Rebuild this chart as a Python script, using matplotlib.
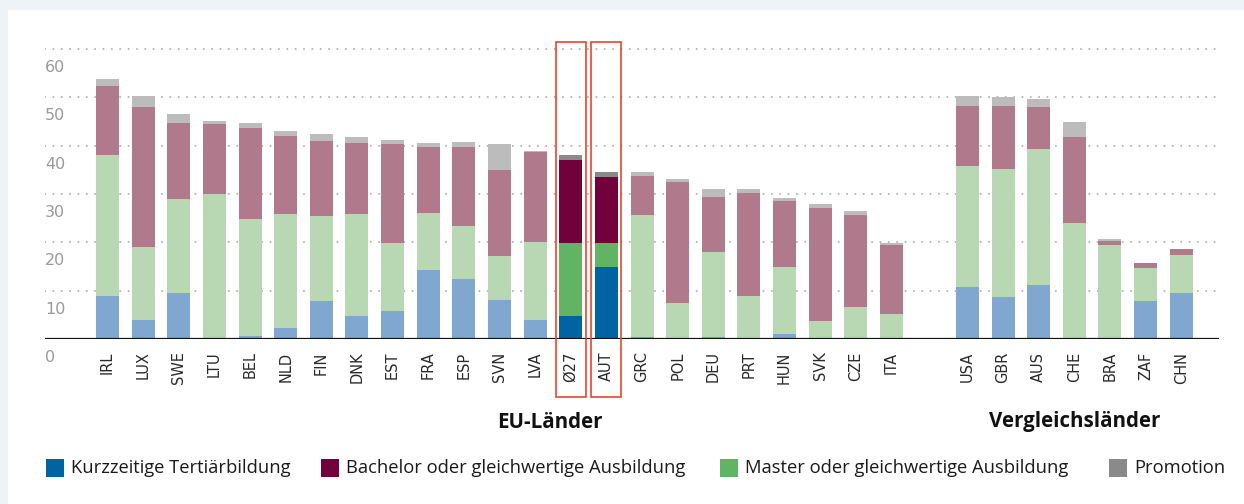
import matplotlib
matplotlib.use("Agg")
import matplotlib.pyplot as plt
from matplotlib.patches import Rectangle
from matplotlib.transforms import blended_transform_factory, offset_copy

# ---------------- data ----------------
eu_countries = ["IRL", "LUX", "SWE", "LTU", "BEL", "NLD", "FIN", "DNK", "EST", "FRA",
                "ESP", "SVN", "LVA", "Ø27", "AUT", "GRC", "POL", "DEU", "PRT", "HUN",
                "SVK", "CZE", "ITA"]
cmp_countries = ["USA", "GBR", "AUS", "CHE", "BRA", "ZAF", "CHN"]

eu_short = [9.0, 3.9, 9.5, 0.0, 0.6, 2.3, 7.9, 4.8, 5.8, 14.3, 12.4, 8.1, 3.9, 4.8, 14.9,
            0.4, 0.0, 0.4, 0.0, 1.0, 0.0, 0.0, 0.0]
eu_master = [29.0, 15.1, 19.4, 30.0, 24.2, 23.5, 17.5, 21.0, 14.0, 11.7, 10.9, 9.0, 16.1,
             15.0, 4.9, 25.2, 7.4, 17.6, 8.9, 13.9, 3.7, 6.6, 5.2]
eu_bachelor = [14.3, 28.9, 15.7, 14.4, 18.8, 16.1, 15.5, 14.7, 20.5, 13.7, 16.4, 17.8, 18.6,
               17.2, 13.7, 8.1, 25.0, 11.3, 21.3, 13.6, 23.4, 19.0, 14.2]
eu_promo = [1.4, 2.3, 1.9, 0.8, 1.0, 1.1, 1.5, 1.2, 0.8, 0.8, 1.0, 5.4, 0.2, 1.0, 1.0,
            0.8, 0.7, 1.7, 0.8, 0.6, 0.8, 0.8, 0.4]

cmp_short = [10.7, 8.7, 11.2, 0.0, 0.0, 7.9, 9.5]
cmp_master = [25.0, 26.4, 28.1, 24.0, 19.4, 6.8, 7.9]
cmp_bachelor = [12.6, 13.2, 8.6, 17.7, 0.8, 1.0, 1.2]
cmp_promo = [1.9, 1.7, 1.7, 3.1, 0.5, 0.0, 0.0]

highlight = ["Ø27", "AUT"]
y_ticks = [0, 10, 20, 30, 40, 50, 60]

series_names = ["Kurzzeitige Tertiärbildung", "Bachelor oder gleichwertige Ausbildung",
                "Master oder gleichwertige Ausbildung", "Promotion"]

# ---------------- style ----------------
light_cols = {"short": "#7fa7cf", "master": "#b7d8b3", "bachelor": "#b07a8c", "promo": "#bbbcbb"}
dark_cols = {"short": "#0064a3", "master": "#60b463", "bachelor": "#72003a", "promo": "#8a8a8a"}
legend_cols = [dark_cols["short"], dark_cols["bachelor"], dark_cols["master"], dark_cols["promo"]]

W, H = 1244, 504
fig = plt.figure(figsize=(W / 100, H / 100), dpi=100)
fig.patch.set_facecolor("white")
frame_col = "#edf3f6"
fig.patches.append(Rectangle((0, 1 - 10 / H), 1, 10 / H, transform=fig.transFigure,
                             facecolor=frame_col, edgecolor="none", zorder=0))
fig.patches.append(Rectangle((0, 0), 8 / W, 1, transform=fig.transFigure,
                             facecolor=frame_col, edgecolor="none", zorder=0))

ax_left, ax_right = 45, 1219
y0_px, ymax = 339, 62.0
px_per_unit = 290 / 60
ax_top_px = y0_px - ymax * px_per_unit
ax = fig.add_axes([ax_left / W, (H - y0_px) / H, (ax_right - ax_left) / W,
                   (y0_px - ax_top_px) / H])
ax.set_facecolor("white")

gap = 1.13
eu_x = list(range(len(eu_countries)))
cmp_x = [len(eu_countries) + gap + i for i in range(len(cmp_countries))]
all_x = eu_x + cmp_x
all_names = eu_countries + cmp_countries
all_short = eu_short + cmp_short
all_master = eu_master + cmp_master
all_bachelor = eu_bachelor + cmp_bachelor
all_promo = eu_promo + cmp_promo

ax.set_xlim(-1.754, 31.19)
ax.set_ylim(0, ymax)

# grid (round dots)
for v in y_ticks[1:]:
    ax.axhline(v, color="#b5b5b5", lw=1.5, linestyle=(0, (0.01, 4.0)),
               dash_capstyle="round", zorder=1)

bw = 23 / 35.636
for x, name, s, m, b, p in zip(all_x, all_names, all_short, all_master, all_bachelor, all_promo):
    cols = dark_cols if name in highlight else light_cols
    bottom = 0
    for val, key in [(s, "short"), (m, "master"), (b, "bachelor"), (p, "promo")]:
        if val > 0:
            ax.bar(x, val, bottom=bottom, width=bw, color=cols[key], linewidth=0, zorder=2)
        bottom += val

ax.axhline(0, color="#111111", lw=1.6, zorder=3)

for side in ax.spines.values():
    side.set_visible(False)
ax.set_yticks([])
ax.set_xticks(all_x)
ax.set_xticklabels(all_names, rotation=90, fontsize=10.5, color="#2a2a2a",
                   family="DejaVu Sans")
ax.tick_params(axis="x", length=0, pad=9.0)

# y labels (placed below their gridlines)
trans = blended_transform_factory(ax.transAxes, ax.transData)
trans_off = offset_copy(trans, fig=fig, x=0, y=-18.5, units="dots")
for v in y_ticks:
    ax.text(0.0, v, str(v), transform=trans_off, ha="left", va="center",
            fontsize=11.5, color="#9a9a9a", family="DejaVu Sans")

# red highlight boxes
for name in highlight:
    xi = all_x[all_names.index(name)]
    half = 15 / 35.636
    r = Rectangle((xi - half, -12.0), 2 * half, 61.5 + 12.0, fill=False,
                  edgecolor="#e8452c", lw=1.2, clip_on=False, zorder=5)
    ax.add_patch(r)

# group labels
fig.text(550 / W, 1 - 422 / H, "EU-Länder", ha="center", va="center",
         fontsize=14.8, fontweight="bold", family="Open Sans", color="#111111")
fig.text(1075 / W, 1 - 422 / H, "Vergleichsländer", ha="center", va="center",
         fontsize=14.8, fontweight="bold", family="Open Sans", color="#111111")

# legend
leg_sq_x = [46, 321, 720, 1109]
for sx, col, lab in zip(leg_sq_x, legend_cols, series_names):
    fig.patches.append(Rectangle((sx / W, 1 - 477 / H), 18 / W, 18 / H,
                                 transform=fig.transFigure, facecolor=col,
                                 edgecolor="none"))
    fig.text((sx + 25) / W, 1 - 468 / H, lab, ha="left", va="center",
             fontsize=13.2, family="Open Sans", color="#1a1a1a")

fig.savefig("out.png", dpi=100, facecolor=fig.get_facecolor())
